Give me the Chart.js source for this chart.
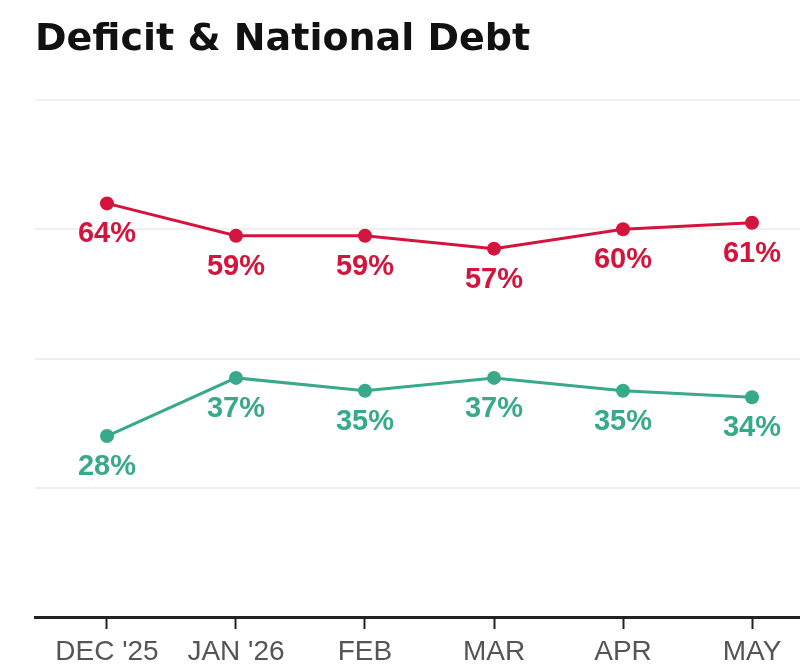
<!DOCTYPE html>
<html>
<head>
<meta charset="utf-8">
<script src="https://cdn.jsdelivr.net/npm/chart.js@4/dist/chart.umd.min.js"></script>
<style>
  html, body { margin: 0; padding: 0; background: #ffffff; }
  #wrap { width: 800px; height: 664px; position: relative; }
</style>
</head>
<body>
<div id="wrap"><canvas id="c" width="800" height="664"></canvas></div>
<script>
const categories = ["DEC '25", "JAN '26", "FEB", "MAR", "APR", "MAY"];
const redValues = [64, 59, 59, 57, 60, 61];
const greenValues = [28, 37, 35, 37, 35, 34];
const yTicks = [0, 20, 40, 60, 80];
const titleText = "Deficit & National Debt";

const RED = "#d3143c";
const GREEN = "#38a98a";

const toPoints = arr => arr.map((v, i) => ({ x: i, y: v }));

const labelPlugin = {
  id: 'pointLabels',
  afterDatasetsDraw(chart) {
    const ctx = chart.ctx;
    chart.data.datasets.forEach((ds, di) => {
      const meta = chart.getDatasetMeta(di);
      ctx.save();
      ctx.font = "bold 29px 'Liberation Sans', Arial, sans-serif";
      ctx.fillStyle = ds.borderColor;
      ctx.textAlign = 'center';
      ctx.textBaseline = 'middle';
      meta.data.forEach((pt, i) => {
        ctx.fillText(ds.data[i].y + '%', pt.x, pt.y + 31);
      });
      ctx.restore();
    });
  }
};

new Chart(document.getElementById('c'), {
  type: 'line',
  data: {
    datasets: [
      {
        data: toPoints(greenValues),
        borderColor: GREEN,
        backgroundColor: GREEN,
        borderWidth: 3,
        pointRadius: 7,
        pointBorderWidth: 0,
        tension: 0,
        clip: false
      },
      {
        data: toPoints(redValues),
        borderColor: RED,
        backgroundColor: RED,
        borderWidth: 3,
        pointRadius: 7,
        pointBorderWidth: 0,
        tension: 0,
        clip: false
      }
    ]
  },
  options: {
    responsive: false,
    animation: false,
    layout: { autoPadding: false, padding: { left: 35, right: 0, top: 0, bottom: 0 } },
    plugins: {
      legend: { display: false },
      tooltip: { enabled: false },
      title: {
        display: true,
        text: titleText,
        align: 'start',
        color: '#111111',
        font: { family: "'DejaVu Sans', sans-serif", weight: 'bold', size: 38, lineHeight: 1.2 },
        padding: { top: 17, bottom: 37.4 }
      }
    },
    scales: {
      x: {
        type: 'linear',
        min: -0.558,
        max: 5.372,
        afterBuildTicks(scale) {
          scale.ticks = categories.map((_, i) => ({ value: i }));
        },
        afterFit(scale) {
          scale.height = 47;
          scale.paddingLeft = 0;
          scale.paddingRight = 0;
        },
        border: { display: true, color: '#222222', width: 3 },
        grid: {
          display: true,
          drawOnChartArea: false,
          drawTicks: true,
          tickLength: 12,
          tickColor: '#222222',
          tickWidth: 2
        },
        ticks: {
          color: '#555555',
          padding: 9,
          autoSkip: false,
          maxRotation: 0,
          font: { family: "'Liberation Sans', Arial, sans-serif", size: 28, lineHeight: 1.0 },
          callback: v => categories[v]
        }
      },
      y: {
        min: 0,
        max: 80,
        afterBuildTicks(scale) {
          scale.ticks = yTicks.map(v => ({ value: v }));
        },
        border: { display: false },
        grid: {
          drawTicks: false,
          color: c => (c.tick && c.tick.value === 0) ? 'rgba(0,0,0,0)' : '#f0f0f0',
          lineWidth: 2
        },
        ticks: { display: false }
      }
    }
  },
  plugins: [labelPlugin]
});
</script>
</body>
</html>
